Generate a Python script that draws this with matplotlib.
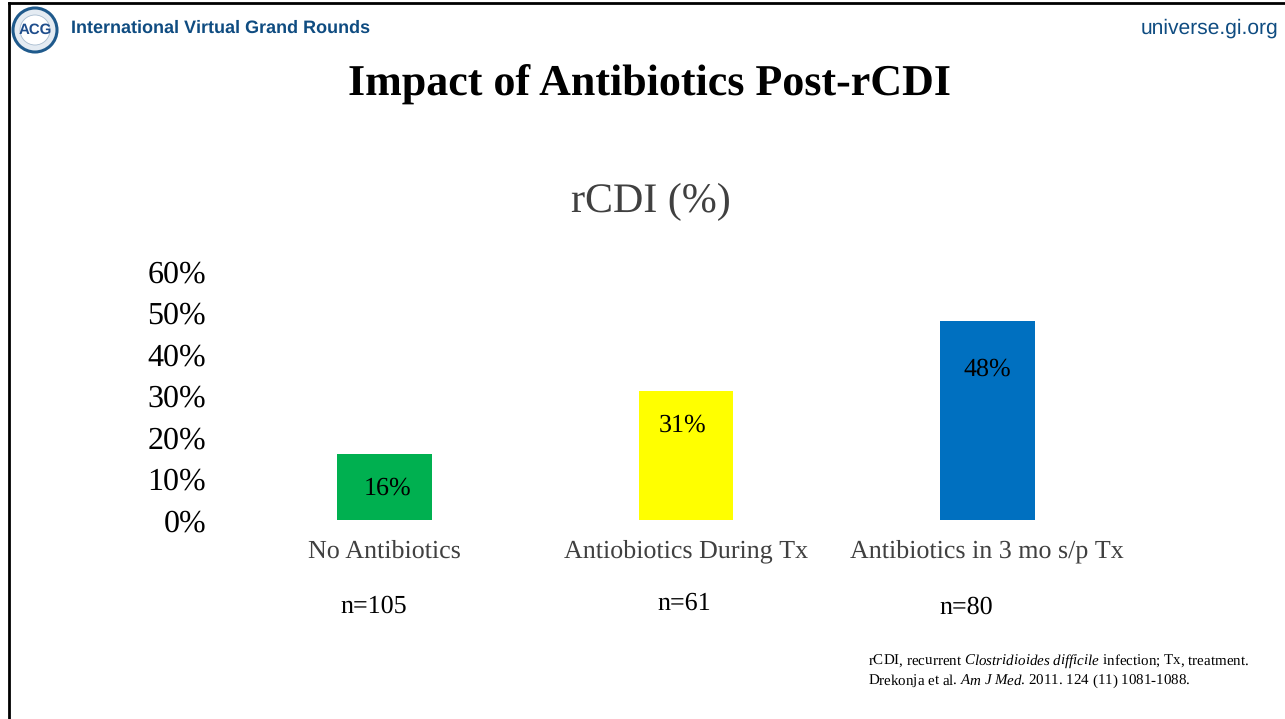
import matplotlib
matplotlib.use('Agg')
import matplotlib.pyplot as plt
from matplotlib.patches import Circle

categories = ['No Antibiotics', 'Antiobiotics During Tx', 'Antibiotics in 3 mo s/p Tx']
values = [16, 31, 48]
value_labels = ['16%', '31%', '48%']
n_labels = ['n=105', 'n=61', 'n=80']
colors = ['#00B050', '#FFFF00', '#0070C0']
yticks = [0, 10, 20, 30, 40, 50, 60]

W, H = 1285, 719
plt.rcParams['font.family'] = ['Liberation Serif', 'DejaVu Serif']
plt.rcParams['mathtext.fontset'] = 'custom'
plt.rcParams['mathtext.it'] = 'Liberation Serif:italic'
plt.rcParams['mathtext.rm'] = 'Liberation Serif'
plt.rcParams['text.hinting'] = 'no_hinting'
plt.rcParams['text.hinting_factor'] = 1

fig = plt.figure(figsize=(W / 100, H / 100), dpi=100)

# full page overlay in pixel coordinates
page = fig.add_axes([0, 0, 1, 1])
page.set_xlim(0, W)
page.set_ylim(H, 0)
page.axis('off')

# slide border on top and left only
page.plot([9, 9], [H, 3], color='black', lw=2, solid_capstyle='projecting')
page.plot([9, W], [3, 3], color='black', lw=2)

# logo
page.add_patch(Circle((35, 30), 22, fc='#e4ebf2', ec='#1f5a8c', lw=2.2))
page.add_patch(Circle((35, 30), 15, fc='white', ec='#a9bdd0', lw=0.6))
page.text(35, 30, 'ACG', ha='center', va='center', fontsize=11, fontweight='bold',
          color='#1f4e8c', family='Liberation Sans')

page.text(71, 28, 'International Virtual Grand Rounds', ha='left', va='center', fontsize=13.3,
          fontweight='bold', color='#0f4c81', family='Liberation Sans')
page.text(1278, 28, 'universe.gi.org', ha='right', va='center', fontsize=15.3,
          color='#0f4c81', family='Liberation Sans')
page.text(649, 85, 'Impact of Antibiotics Post-rCDI', ha='center', va='center', fontsize=32,
          fontweight='bold', color='black')
page.text(651, 202, 'rCDI (%)', ha='center', va='center', fontsize=30, color='#404040')

page.text(868, 661, r'rCDI, recurrent $\mathit{Clostridioides\ difficile}$ infection; Tx, treatment.',
          ha='left', va='center', fontsize=10.5, color='black')
page.text(868, 681, r'Drekonja et al. $\mathit{Am\ J\ Med}$. 2011. 124 (11) 1081-1088.',
          ha='left', va='center', fontsize=10.5, color='black')

# chart
left, right, top, bottom = 234, 1138, 271, 520
ax = fig.add_axes([left / W, 1 - bottom / H, (right - left) / W, (bottom - top) / H])
ax.patch.set_alpha(0)
x = range(len(categories))
ax.bar(x, values, width=95 / 301.5, color=colors)
ax.set_xlim(-0.5, 2.5)
ax.set_ylim(0, 60)
ax.set_yticks(yticks)
ax.set_yticklabels([str(t) + '%' for t in yticks], fontsize=23, color='black')
ax.set_xticks(list(x))
ax.set_xticklabels(categories, fontsize=18.4, color='#404040')
ax.tick_params(axis='both', length=0)
ax.tick_params(axis='y', pad=20)
ax.tick_params(axis='x', pad=14)
for s in ax.spines.values():
    s.set_visible(False)

label_y = [7.6, 22.8, 36.4]
label_x = [0.01, -0.01, 0]
for i in x:
    ax.text(i + label_x[i], label_y[i], value_labels[i], ha='center', va='center', fontsize=18.5, color='black')

n_pos = [(374, 606), (684, 603), (966, 607)]
for (px, py), t in zip(n_pos, n_labels):
    page.text(px, py, t, ha='center', va='center', fontsize=18.5, color='black')

fig.savefig('out.png', dpi=100)
